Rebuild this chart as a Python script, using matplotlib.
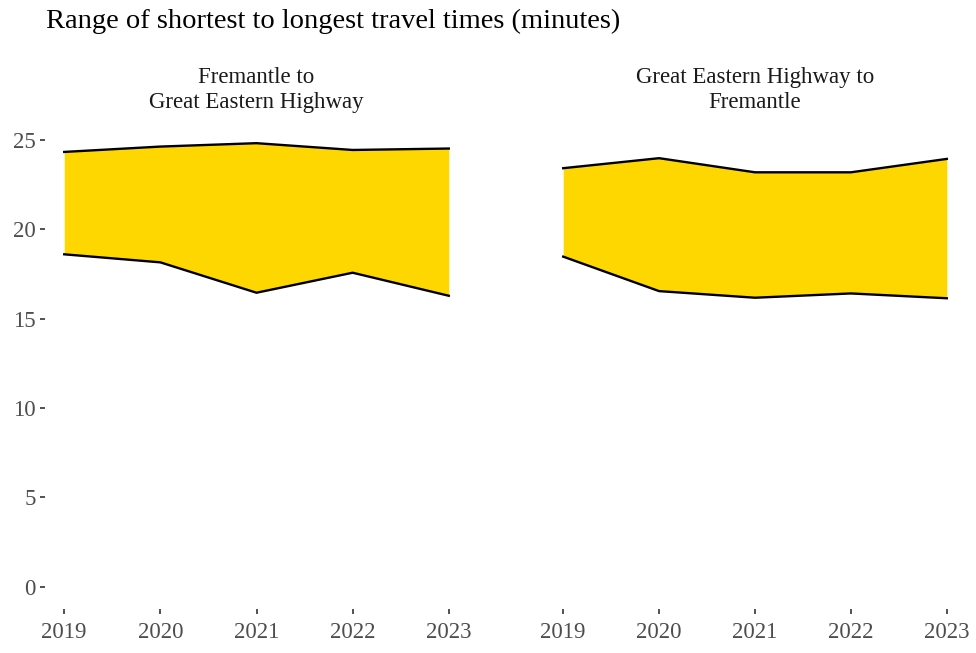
import numpy as np
import matplotlib
matplotlib.use("Agg")
import matplotlib.pyplot as plt

# travel time ranges per direction (minutes)
years = [2019, 2020, 2021, 2022, 2023]
panels = ["Fremantle to\nGreat Eastern Highway", "Great Eastern Highway to\nFremantle"]
fre_to_geh_min = [18.61, 18.16, 16.46, 17.58, 16.29]
fre_to_geh_max = [24.34, 24.64, 24.83, 24.45, 24.53]
geh_to_fre_min = [18.48, 16.55, 16.18, 16.42, 16.15]
geh_to_fre_max = [23.43, 23.99, 23.20, 23.20, 23.95]
y_ticks = [0, 5, 10, 15, 20, 25]

plt.rcParams['font.family'] = ['Liberation Serif', 'DejaVu Serif']

fig = plt.figure(figsize=(9.76, 6.53), dpi=100)
W, H = 976, 653
# panel boxes in pixels: left, right, top, bottom
boxes = [(45, 468, 121, 609), (544, 966, 121, 609)]
mins = [fre_to_geh_min, geh_to_fre_min]
maxs = [fre_to_geh_max, geh_to_fre_max]

ymax = max(max(fre_to_geh_max), max(geh_to_fre_max))
pad_y = 0.05 * ymax

for i, (l, r, t, b) in enumerate(boxes):
    ax = fig.add_axes([l / W, 1 - b / H, (r - l) / W, (b - t) / H])
    ax.fill_between(years, mins[i], maxs[i], color="#FFD700", linewidth=0)
    ax.plot(years, mins[i], color="black", lw=1.7)
    ax.plot(years, maxs[i], color="black", lw=1.7)
    ax.set_xlim(years[0] - 0.2, years[-1] + 0.2)
    ax.set_ylim(-pad_y, ymax + pad_y)
    ax.set_xticks(years)
    ax.set_xticklabels([str(y) for y in years])
    ax.set_yticks(y_ticks)
    for s in ax.spines.values():
        s.set_visible(False)
    ax.tick_params(axis="both", colors="#333333", labelcolor="#4D4D4D",
                   labelsize=16.5, length=3.5, width=1.2, pad=3)
    ax.tick_params(axis="x", pad=6)
    if i == 1:
        ax.tick_params(axis="y", left=False, labelleft=False)
    ax.set_title(panels[i], fontsize=16.5, color="#1A1A1A", pad=9.5, linespacing=1.25)

fig.text(46 / W, 1 - 21 / H, "Range of shortest to longest travel times (minutes)",
         fontsize=20.5, color="black", va="center", ha="left")

fig.savefig("out.png", dpi=100)
